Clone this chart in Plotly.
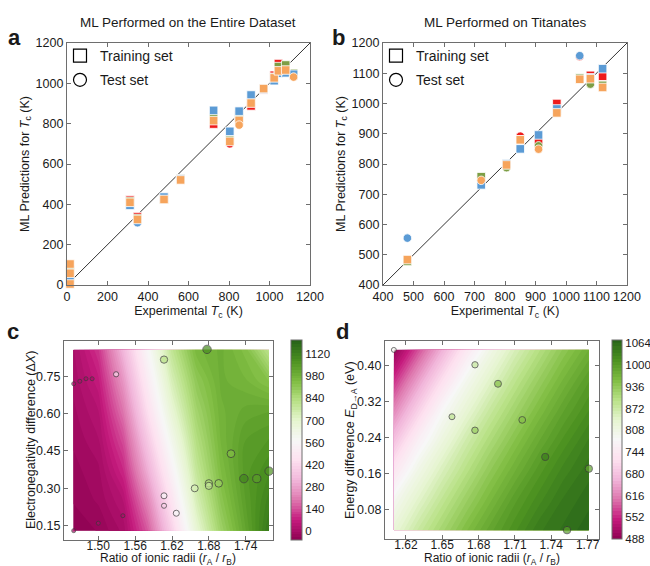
import plotly.graph_objects as go

# ---------------- Panel a: ML on entire dataset ----------------
a_red_x = [15, 311, 348, 479, 561, 724, 804, 850, 909, 971, 1023, 1044, 1080, 1119]
a_red_y = [91, 422, 339, 428, 527, 798, 700, 843, 888, 968, 1040, 1098, 1085, 1040]
a_red_test = [1, 0, 0, 0, 0, 0, 1, 0, 0, 0, 0, 0, 0, 0]

a_green_x = [15, 311, 348, 479, 561, 724, 804, 850, 909, 971, 1023, 1044, 1080, 1119]
a_green_y = [70, 415, 330, 426, 526, 830, 718, 830, 918, 972, 1030, 1083, 1091, 1050]
a_green_test = [0, 0, 0, 0, 0, 0, 0, 0, 1, 0, 0, 0, 0, 0]

a_blue_x = [15, 311, 348, 479, 561, 724, 804, 850, 909, 971, 1023, 1044, 1080, 1119]
a_blue_y = [33, 395, 309, 436, 525, 866, 762, 862, 942, 972, 1013, 1050, 1052, 1045]
a_blue_test = [0, 0, 1, 0, 0, 0, 0, 0, 0, 0, 0, 0, 0, 0]

a_orange_x = [15, 15, 15, 311, 348, 479, 561, 724, 804, 850, 850, 909, 971, 1023, 1044, 1080, 1119]
a_orange_y = [104, 58, 5, 410, 325, 424, 521, 815, 712, 816, 793, 902, 974, 1027, 1062, 1066, 1031]
a_orange_test = [0, 0, 0, 0, 0, 0, 0, 0, 0, 0, 1, 0, 0, 0, 0, 0, 1]

# ---------------- Panel b: ML on titanates ----------------
b_red_x = [480, 722, 805, 850, 910, 970, 1045, 1080, 1120]
b_red_y = [482, 752, 798, 892, 870, 1000, 1155, 1093, 1090]
b_red_test = [0, 0, 0, 1, 0, 0, 1, 0, 0]

b_green_x = [480, 722, 805, 850, 910, 970, 1045, 1080, 1120]
b_green_y = [478, 758, 788, 880, 860, 975, 1084, 1064, 1060]
b_green_test = [0, 0, 1, 0, 1, 0, 0, 1, 0]

b_blue_x = [480, 722, 805, 850, 910, 970, 1045, 1080, 1120]
b_blue_y = [555, 731, 801, 850, 896, 982, 1158, 1085, 1115]
b_blue_test = [1, 0, 0, 0, 0, 0, 1, 0, 0]

b_orange_x = [480, 722, 805, 850, 910, 970, 1045, 1080, 1120]
b_orange_y = [484, 746, 797, 880, 849, 969, 1080, 1082, 1053]
b_orange_test = [0, 1, 0, 0, 1, 0, 0, 0, 0]

# ---------------- Panel c: surface over (rA/rB, dX) ----------------
c_grid_x = [1.4594, 1.50, 1.54, 1.58, 1.62, 1.66, 1.70, 1.74, 1.7779]
c_grid_y = [0.130, 0.25, 0.37, 0.49, 0.61, 0.73, 0.857]
c_grid_z = [
    [-50, -40, 0, 150, 400, 680, 880, 1020, 1150],
    [-40, -20, 30, 220, 470, 740, 920, 1040, 1120],
    [-30, -10, 80, 300, 540, 790, 950, 1050, 1090],
    [-20, 10, 130, 370, 610, 830, 970, 1040, 1060],
    [-10, 30, 190, 440, 680, 870, 980, 1010, 1020],
    [0, 60, 250, 500, 740, 910, 990, 970, 930],
    [10, 100, 320, 560, 800, 960, 990, 940, 810],
]
c_pt_x = [1.677, 1.607, 1.529, 1.46, 1.47, 1.48, 1.49, 1.716, 1.737, 1.758, 1.778,
          1.696, 1.68, 1.68, 1.657, 1.607, 1.607, 1.627, 1.54, 1.50, 1.46]
c_pt_y = [0.858, 0.817, 0.758, 0.72, 0.73, 0.74, 0.74, 0.439, 0.339, 0.339, 0.369,
          0.32, 0.32, 0.31, 0.30, 0.27, 0.23, 0.20, 0.19, 0.16, 0.13]
c_pt_tc = [1100, 830, 420, 5, 5, 5, 5, 950, 1120, 1050, 1080,
           900, 850, 800, 750, 560, 400, 570, 5, 5, 5]
c_cbar_ticks = [0, 140, 280, 420, 560, 700, 840, 980, 1120]

# ---------------- Panel d: surface over (rA/rB, E_D->A) ----------------
d_grid_x = [1.61, 1.63, 1.65, 1.67, 1.69, 1.71, 1.73, 1.75, 1.771]
d_grid_y = [0.0344, 0.10, 0.17, 0.235, 0.30, 0.37, 0.4346]
d_grid_z = [
    [828, 877, 917, 955, 989, 1017, 1044, 1057, 1070],
    [792, 843, 888, 928, 964, 999, 1025, 1048, 1061],
    [736, 803, 854, 897, 937, 972, 1005, 1031, 1051],
    [678, 758, 817, 868, 909, 947, 982, 1012, 1038],
    [619, 700, 780, 832, 880, 920, 957, 991, 1019],
    [555, 638, 718, 792, 843, 889, 929, 965, 999],
    [495, 578, 660, 741, 806, 857, 900, 940, 974],
]
d_pt_x = [1.61, 1.677, 1.696, 1.658, 1.677, 1.716, 1.735, 1.771, 1.753]
d_pt_y = [0.434, 0.401, 0.359, 0.286, 0.256, 0.279, 0.197, 0.171, 0.035]
d_pt_tc = [480, 805, 970, 722, 850, 910, 1045, 1080, 1120]
d_pt_val = [790, 880, 950, 890, 930, 950, 1040, 990, 1000]
d_cbar_ticks = [488, 552, 616, 680, 744, 808, 872, 936, 1000, 1064]

# ---------------- styling ----------------
FONT = "Liberation Sans, Arial, sans-serif"
TXT = "#1a1a1a"
FRAME = "#6e6e6e"
COL = {"red": "#EE1B1B", "green": "#7D9E45", "blue": "#5B9BD5", "orange": "#F6A45C"}
W, H = 650, 566


def px_x(p):
    return p / W


def px_y(p):
    return 1 - p / H


fig = go.Figure()


def add_model(xs, ys, tests, color, xa, ya):
    fig.add_trace(go.Scatter(
        x=xs, y=ys, mode="markers", xaxis=xa, yaxis=ya, showlegend=False,
        hoverinfo="skip", cliponaxis=False,
        marker=dict(symbol=["circle" if t else "square" for t in tests], size=8.5,
                    color=color, line=dict(color="white", width=0.8))))


for xa, ya, rng in [("x", "y", [0, 1200]), ("x2", "y2", [400, 1200])]:
    fig.add_trace(go.Scatter(x=rng, y=rng, mode="lines", xaxis=xa, yaxis=ya,
                             showlegend=False, hoverinfo="skip",
                             line=dict(color="#333333", width=1)))

add_model(a_red_x, a_red_y, a_red_test, COL["red"], "x", "y")
add_model(a_green_x, a_green_y, a_green_test, COL["green"], "x", "y")
add_model(a_blue_x, a_blue_y, a_blue_test, COL["blue"], "x", "y")
add_model(a_orange_x, a_orange_y, a_orange_test, COL["orange"], "x", "y")

add_model(b_red_x, b_red_y, b_red_test, COL["red"], "x2", "y2")
add_model(b_green_x, b_green_y, b_green_test, COL["green"], "x2", "y2")
add_model(b_blue_x, b_blue_y, b_blue_test, COL["blue"], "x2", "y2")
add_model(b_orange_x, b_orange_y, b_orange_test, COL["orange"], "x2", "y2")

# legends
for lg, xa, ya in [("legend", "x", "y"), ("legend2", "x2", "y2")]:
    for name, sym, grp in [("Training set", "square-open", "tr"), ("Test set", "circle-open", "te")]:
        fig.add_trace(go.Scatter(x=[None], y=[None], mode="markers", name=name,
                                 legend=lg, legendgroup=grp, xaxis=xa, yaxis=ya,
                                 marker=dict(symbol=sym, size=13, color="black",
                                             line=dict(color="black", width=1.2))))

# contour panels
fig.add_trace(go.Contour(
    x=c_grid_x, y=c_grid_y, z=c_grid_z, xaxis="x3", yaxis="y3",
    colorscale="PiYG", zmin=-59, zmax=1211, autocontour=False,
    contours=dict(start=-59, end=1211, size=18, coloring="fill", showlines=False),
    line=dict(width=0), hoverinfo="skip",
    colorbar=dict(x=px_x(291), xanchor="left", xpad=0, y=px_y(540), yanchor="bottom",
                  ypad=0, len=200 / H, lenmode="fraction", thickness=11,
                  outlinecolor=FRAME, outlinewidth=1, tickvals=c_cbar_ticks,
                  ticks="", tickfont=dict(size=11.5, color=TXT, family=FONT))))
fig.add_trace(go.Scatter(
    x=c_pt_x, y=c_pt_y, mode="markers", xaxis="x3", yaxis="y3", showlegend=False,
    hoverinfo="skip", cliponaxis=False,
    marker=dict(color=c_pt_tc, colorscale="PiYG", cmin=-59, cmax=1211, showscale=False,
                size=c_pt_tc, sizemode="area", sizeref=2 * 1120 / 8.5 ** 2, sizemin=2,
                line=dict(color="#3a3a3a", width=1))))

fig.add_trace(go.Contour(
    x=d_grid_x, y=d_grid_y, z=d_grid_z, xaxis="x4", yaxis="y4",
    colorscale="PiYG", zmin=488, zmax=1074, autocontour=False,
    contours=dict(start=488, end=1074, size=9, coloring="fill", showlines=False),
    line=dict(width=0), hoverinfo="skip",
    colorbar=dict(x=px_x(612), xanchor="left", xpad=0, y=px_y(539), yanchor="bottom",
                  ypad=0, len=199 / H, lenmode="fraction", thickness=10,
                  outlinecolor=FRAME, outlinewidth=1, tickvals=d_cbar_ticks,
                  ticks="", tickfont=dict(size=11.5, color=TXT, family=FONT))))
fig.add_trace(go.Scatter(
    x=d_pt_x, y=d_pt_y, mode="markers", xaxis="x4", yaxis="y4", showlegend=False,
    hoverinfo="skip", cliponaxis=False,
    marker=dict(color=d_pt_val, colorscale="PiYG", cmin=488, cmax=1074, showscale=False,
                size=d_pt_tc, sizemode="area", sizeref=2 * 1120 / 7.5 ** 2, sizemin=2,
                line=dict(color="#3a3a3a", width=1))))


def ax(domain, rng, anchor, title, standoff=2, tsize=12.5, **kw):
    d = dict(domain=domain, range=rng, anchor=anchor, showline=True, linecolor=FRAME,
             linewidth=1.2, mirror="ticks", ticks="inside", ticklen=4, tickcolor=FRAME,
             showgrid=False, zeroline=False, tickangle=0, automargin=False,
             tickfont=dict(size=tsize, color=TXT, family=FONT),
             title=dict(text=title, standoff=standoff,
                        font=dict(size=12.5, color=TXT, family=FONT)))
    d.update(kw)
    return d


TC = "<i>T</i><sub>c</sub>"
RATIO = "Ratio of ionic radii (<i>r</i><sub>A</sub> / <i>r</i><sub>B</sub>)"


def note(text, xp, yp, size, family=FONT, angle=0):
    return dict(text=text, x=px_x(xp), y=px_y(yp), xref="paper", yref="paper",
                xanchor="center", yanchor="middle", showarrow=False, textangle=angle,
                font=dict(size=size, family=family, color=TXT))


layout = dict(
    width=W, height=H, margin=dict(l=0, r=0, t=0, b=0),
    paper_bgcolor="white", plot_bgcolor="white",
    font=dict(family=FONT, color=TXT),
    xaxis=ax([px_x(67), px_x(310)], [0, 1200], "y", f"Experimental {TC} (K)",
             standoff=1, dtick=200),
    yaxis=ax([px_y(285), px_y(43)], [0, 1200], "x", f"ML Predictions for {TC} (K)",
             standoff=3, dtick=200),
    xaxis2=ax([px_x(383), px_x(627)], [400, 1200], "y2", f"Experimental {TC} (K)",
              standoff=1, dtick=100),
    yaxis2=ax([px_y(285), px_y(43)], [400, 1200], "x2", f"ML Predictions for {TC} (K)",
              standoff=3, dtick=100),
    xaxis3=ax([px_x(64), px_x(273)], [1.4442, 1.7844], "y3", "", tsize=12,
              ticklabelstandoff=-6,
              tickvals=[1.50, 1.56, 1.62, 1.68, 1.74], tickformat=".2f"),
    yaxis3=ax([px_y(540), px_y(341)], [0.0925, 0.8917], "x3", "",
              tickvals=[0.15, 0.30, 0.45, 0.60, 0.75], tickformat=".2f"),
    xaxis4=ax([px_x(385), px_x(599)], [1.6027, 1.7794], "y4", "", tsize=12,
              ticklabelstandoff=-6,
              tickvals=[1.62, 1.65, 1.68, 1.71, 1.74, 1.77], tickformat=".2f"),
    yaxis4=ax([px_y(539), px_y(341)], [0.0153, 0.4537], "x4", "",
              tickvals=[0.08, 0.16, 0.24, 0.32, 0.40], tickformat=".2f"),
    legend=dict(x=px_x(60), y=px_y(40), xanchor="left", yanchor="top",
                bgcolor="rgba(0,0,0,0)", font=dict(size=14, color=TXT, family=FONT),
                itemwidth=30, traceorder="grouped", tracegroupgap=3),
    legend2=dict(x=px_x(376), y=px_y(40), xanchor="left", yanchor="top",
                 bgcolor="rgba(0,0,0,0)", font=dict(size=14, color=TXT, family=FONT),
                 itemwidth=30, traceorder="grouped", tracegroupgap=3),
    annotations=[
        note("ML Performed on the Entire Dataset", 188, 22, 13.5),
        note("ML Performed on Titanates", 505, 22, 13.5),
        note("<b>a</b>", 14, 37, 22),
        note("<b>b</b>", 338, 37, 22),
        note("<b>c</b>", 13, 331, 22),
        note("<b>d</b>", 342, 331, 22),
        note(RATIO, 168, 558.5, 12),
        note(RATIO, 492, 558.5, 12),
        note("Electronegativity difference (Δ<i>X</i>)", 31, 440, 12.5, angle=-90),
        note("Energy difference <i>E</i><sub>D→A</sub> (eV)", 351, 440, 12.5, angle=-90),
    ],
)
fig.update_layout(**layout)
fig.write_html("out.html")
